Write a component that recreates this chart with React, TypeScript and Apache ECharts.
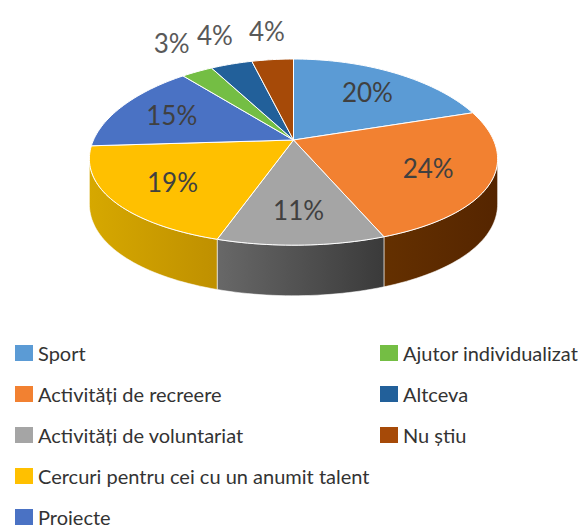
import React, { useEffect, useRef } from "react";
import * as echarts from "echarts";

const categories = [
  "Sport",
  "Activități de recreere",
  "Activități de voluntariat",
  "Cercuri pentru cei cu un anumit talent",
  "Proiecte",
  "Ajutor individualizat",
  "Altceva",
  "Nu știu",
];
const values = [20, 24, 11, 19, 15, 3, 4, 4];
const topColors = ["#5B9BD5", "#F28131", "#A5A5A5", "#FFC000", "#4A72C4", "#74BE44", "#22609A", "#A64A08"];
const sideColors = [
  ["#3d6f9e", "#3d6f9e"],
  ["#643000", "#552500"],
  ["#686868", "#3a3a3a"],
  ["#d6a800", "#bf9000"],
  ["#2e5597", "#2e5597"],
  ["#4f8a2c", "#4f8a2c"],
  ["#173f66", "#173f66"],
  ["#6a2f05", "#6a2f05"],
];
const legendLeft = categories.slice(0, 5);
const legendRight = categories.slice(5);

const FONT = 'Lato, "Open Sans", "DejaVu Sans", sans-serif';

export default function App() {
  const ref = useRef<HTMLDivElement>(null);
  useEffect(() => {
    document.body.style.margin = "0";
    const chart = echarts.init(ref.current!, null, { renderer: "svg" });
    const total = values.reduce((a, b) => a + b, 0);
    // pseudo-perspective projection of the pie disc
    const cx = 293.5;
    const cy = 140;
    const R = 200;
    const RY = 91.5;
    const px = 0.2;
    const py = 0.13;
    const T = 44;
    const proj = (a: number, f: number, down = 0) => {
      const s = Math.sin(a) * f;
      const c = Math.cos(a) * f;
      return [cx + (R * s) / (1 + px * c), cy - (RY * c) / (1 + py * c) + down / (1 + py * c)];
    };
    const sideStart = Math.PI - Math.acos(px);
    const sideEnd = Math.PI + Math.acos(px);

    const renderItem = (params: any, api: any) => {
      const i = params.dataIndex;
      const v = api.value(0);
      let start = 0;
      for (let k = 0; k < i; k++) start += values[k];
      const a0 = (start / total) * Math.PI * 2;
      const a1 = ((start + v) / total) * Math.PI * 2;
      const children: any[] = [];
      const s0 = Math.max(a0, sideStart);
      const s1 = Math.min(a1, sideEnd);
      if (s1 > s0) {
        const n = Math.max(3, Math.ceil((s1 - s0) / (Math.PI / 120)));
        const topPts: number[][] = [];
        const botPts: number[][] = [];
        for (let j = 0; j <= n; j++) {
          const a = s0 + ((s1 - s0) * j) / n;
          topPts.push(proj(a, 1));
          botPts.push(proj(a, 1, T));
        }
        children.push({
          type: "polygon",
          shape: { points: topPts.concat(botPts.reverse()) },
          style: {
            fill: new echarts.graphic.LinearGradient(0, 0, 1, 0, [
              { offset: 0, color: sideColors[i][0] },
              { offset: 1, color: sideColors[i][1] },
            ]),
            stroke: "rgba(255,255,255,0.7)",
            lineWidth: 0.8,
          },
        });
      }
      const n2 = Math.max(3, Math.ceil((a1 - a0) / (Math.PI / 120)));
      const pts: number[][] = [[cx, cy]];
      for (let j = 0; j <= n2; j++) {
        const a = a0 + ((a1 - a0) * j) / n2;
        pts.push(proj(a, 1));
      }
      children.push({
        type: "polygon",
        shape: { points: pts },
        style: { fill: topColors[i], stroke: "#ffffff", lineWidth: 1 },
      });
      const mid = (a0 + a1) / 2;
      let lx: number, ly: number, color: string;
      if (v / total >= 0.05) {
        const p = proj(mid, 0.7);
        lx = p[0];
        ly = p[1];
        color = "#404040";
      } else {
        const p = proj(mid, 1);
        lx = p[0] + 45 * Math.sin(mid);
        ly = p[1] - 29;
        color = "#595959";
      }
      children.push({
        type: "text",
        z2: 10,
        style: {
          x: lx,
          y: ly,
          text: Math.round((v / total) * 100) + "%",
          fill: color,
          font: `26px ${FONT}`,
          align: "center",
          verticalAlign: "middle",
        },
      });
      return { type: "group", children };
    };

    const legendCommon = {
      orient: "vertical" as const,
      top: 343,
      height: 260,
      padding: 0,
      itemWidth: 18,
      itemHeight: 16,
      itemGap: 21,
      icon: "rect",
      selectedMode: false,
      textStyle: { fontFamily: FONT, fontSize: 20, color: "#333333", lineHeight: 20 },
    };

    chart.setOption({
      animation: false,
      legend: [
        { ...legendCommon, left: 15, data: legendLeft },
        { ...legendCommon, left: 380, data: legendRight },
      ],
      series: [
        {
          type: "custom",
          coordinateSystem: "none",
          renderItem,
          silent: true,
          data: values.map((v, i) => ({ name: categories[i], value: [v] })),
        },
        {
          type: "pie",
          radius: [0, 0],
          center: [-50, -50],
          silent: true,
          label: { show: false },
          labelLine: { show: false },
          data: values.map((v, i) => ({ name: categories[i], value: v, itemStyle: { color: topColors[i] } })),
        },
      ],
    });
    return () => chart.dispose();
  }, []);
  return <div ref={ref} style={{ width: 578, height: 529 }} />;
}
